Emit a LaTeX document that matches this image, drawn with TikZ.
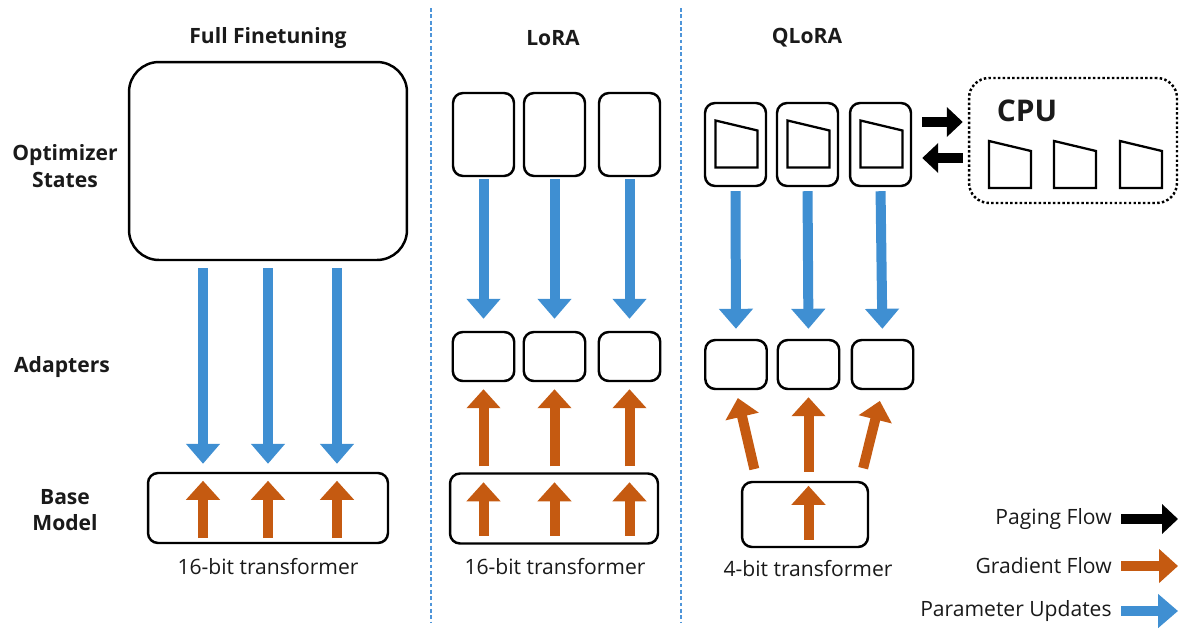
\documentclass[tikz,border=0pt]{standalone}
\usepackage{fontspec}
\setmainfont{Open Sans}
\usetikzlibrary{positioning,arrows.meta,calc}
\definecolor{updblue}{HTML}{3F8FD2}
\definecolor{gradorange}{HTML}{C55A11}
\definecolor{sepblue}{HTML}{4E95D9}
\definecolor{ink}{HTML}{1A1A1A}

\begin{document}
\begin{tikzpicture}[
  x=0.02cm, y=-0.02cm,
  every node/.style={font=\fontsize{12}{15}\selectfont, text=ink},
  headlabel/.style={font=\fontsize{12}{15}\selectfont\bfseries, align=center},
  optbox/.style={
    draw, line width=1.4pt, rounded corners=0.2cm, inner sep=0pt,
    minimum width=1.22cm, minimum height=1.66cm,
  },
  adbox/.style={
    draw, line width=1.4pt, rounded corners=0.2cm, inner sep=0pt,
    minimum width=1.23cm, minimum height=0.98cm,
  },
  basebox/.style={
    draw, line width=1.4pt, rounded corners=0.2cm, inner sep=0pt,
    minimum height=1.4cm,
  },
  cpubox/.style={
    draw, line width=1.4pt, rounded corners=0.4cm, inner sep=0pt,
    dash pattern=on 1.4pt off 1.3pt,
    minimum width=4.16cm, minimum height=2.5cm,
  },
  upd/.style={line width=0.2cm, draw=updblue, -{Triangle[length=0.4cm, width=0.66cm]}},
  grad/.style={line width=0.2cm, draw=gradorange, -{Triangle[length=0.38cm, width=0.66cm]}},
  paging/.style={line width=0.2cm, draw=black, -{Triangle[length=0.32cm, width=0.58cm]}},
  sepline/.style={draw=sepblue, line width=1.1pt, dash pattern=on 2.2pt off 1.4pt},
  legtext/.style={anchor=east, inner sep=0pt},
  trapez/.pic={
    \draw[line width=1.3pt] (-20,-24) -- (22,-14) -- (22,23) -- (-20,23) -- cycle;
  },
]
  \useasboundingbox (0,0) rectangle (1182,629);

  % column titles and row labels
  \node[headlabel] (tfull)  at (268, 38)  {Full Finetuning};
  \node[headlabel] (tlora)  at (553, 38)  {LoRA};
  \node[headlabel] (tqlora) at (807, 38)  {QLoRA};
  \node[headlabel] (ropt)   at (65, 166)  {Optimizer\\States};
  \node[headlabel] (rad)    at (62, 367)  {Adapters};
  \node[headlabel] (rbase)  at (65, 510)  {Base\\Model};

  % separators
  \draw[sepline] (431, 8) -- (431, 622);
  \draw[sepline] (681, 8) -- (681, 622);

  % full finetuning
  \node[draw, line width=1.4pt, rounded corners=0.6cm, inner sep=0pt,
        minimum width=5.56cm, minimum height=3.96cm] (ffopt) at (268, 161) {};
  \node[basebox, minimum width=4.8cm] (ffbase) at (268, 508) {};
  \node (fflabel) at (268, 567) {16-bit transformer};

  \draw[upd, shorten <=0.14cm, shorten >=0.16cm] ([xshift=-1.3cm]ffopt.south) -- ([xshift=-1.3cm]ffbase.north);
  \draw[upd, shorten <=0.14cm, shorten >=0.16cm] (ffopt.south) -- (ffbase.north);
  \draw[upd, shorten <=0.14cm, shorten >=0.16cm] ([xshift=1.38cm]ffopt.south) -- ([xshift=1.38cm]ffbase.north);
  \draw[grad, shorten <=0.12cm, shorten >=0.18cm] ([xshift=-1.3cm]ffbase.south) -- ([xshift=-1.3cm]ffbase.north);
  \draw[grad, shorten <=0.12cm, shorten >=0.18cm] (ffbase.south) -- (ffbase.north);
  \draw[grad, shorten <=0.12cm, shorten >=0.18cm] ([xshift=1.38cm]ffbase.south) -- ([xshift=1.38cm]ffbase.north);

  % lora
  \node[optbox] (lopt1) at (483.5, 134.5) {};
  \node[optbox] (lopt2) at (554.5, 134.5) {};
  \node[optbox] (lopt3) at (629.5, 134.5) {};
  \node[adbox]  (lad1)  at (483.5, 356.5) {};
  \node[adbox]  (lad2)  at (554.5, 356.5) {};
  \node[adbox]  (lad3)  at (629.5, 356.5) {};
  \node[basebox, minimum width=4.16cm] (lbase) at (554, 508.5) {};
  \node (llabel) at (555, 567) {16-bit transformer};

  \draw[upd, shorten <=0.04cm, shorten >=0.24cm] (lopt1.south) -- (lad1.north);
  \draw[upd, shorten <=0.04cm, shorten >=0.24cm] (lopt2.south) -- (lad2.north);
  \draw[upd, shorten <=0.04cm, shorten >=0.24cm] (lopt3.south) -- (lad3.north);
  \draw[grad, shorten <=0.12cm, shorten >=0.14cm] (lad1.south |- lbase.north) -- (lad1.south);
  \draw[grad, shorten <=0.12cm, shorten >=0.14cm] (lad2.south |- lbase.north) -- (lad2.south);
  \draw[grad, shorten <=0.12cm, shorten >=0.14cm] (lad3.south |- lbase.north) -- (lad3.south);
  \draw[grad, shorten <=0.18cm, shorten >=0.2cm] (lad1.south |- lbase.south) -- (lad1.south |- lbase.north);
  \draw[grad, shorten <=0.18cm, shorten >=0.2cm] (lad2.south |- lbase.south) -- (lad2.south |- lbase.north);
  \draw[grad, shorten <=0.18cm, shorten >=0.2cm] (lad3.south |- lbase.south) -- (lad3.south |- lbase.north);

  % qlora
  \node[optbox] (qopt1) at (735.5, 144.5) {};
  \node[optbox] (qopt2) at (807.5, 144.5) {};
  \node[optbox] (qopt3) at (880.5, 144.5) {};
  \pic at (qopt1.center) {trapez};
  \pic at (qopt2.center) {trapez};
  \pic at (qopt3.center) {trapez};
  \node[adbox]  (qad1)  at (736, 364.5) {};
  \node[adbox]  (qad2)  at (808.5, 364.5) {};
  \node[adbox]  (qad3)  at (882.5, 364.5) {};
  \node[basebox, minimum width=2.52cm, minimum height=1.3cm] (qbase) at (805, 514.5) {};
  \node (qlabel) at (808, 569) {4-bit transformer};

  \draw[upd, shorten <=0.08cm, shorten >=0.2cm] (qopt1.south) -- (qad1.north);
  \draw[upd, shorten <=0.08cm, shorten >=0.2cm] (qopt2.south) -- (qad2.north);
  \draw[upd, shorten <=0.08cm, shorten >=0.2cm] (qopt3.south) -- (qad3.north);
  \draw[grad, shorten <=0.24cm, shorten >=0.16cm] ([xshift=-0.96cm]qbase.north) -- (qad1.south);
  \draw[grad, shorten <=0.18cm, shorten >=0.14cm] (qad2.south |- qbase.north) -- (qad2.south);
  \draw[grad, shorten <=0.26cm, shorten >=0.22cm] ([xshift=1.1cm]qbase.north) -- (qad3.south);
  \draw[grad, shorten <=0.16cm, shorten >=0.1cm] (qad2.south |- qbase.south) -- (qad2.south |- qbase.north);

  % cpu paging
  \node[cpubox] (cpu) at (1073, 140.5) {};
  \node[font=\fontsize{17}{20}\selectfont\bfseries] (cpulabel) at (1027, 111) {CPU};
  \pic at (1009, 165) {trapez};
  \pic at (1074, 165) {trapez};
  \pic at (1140, 165) {trapez};

  \draw[paging, shorten <=0.2cm, shorten >=0.1cm] ([yshift=0.45cm]qopt3.east) -- ([yshift=0.45cm]qopt3.east -| cpu.west);
  \draw[paging, shorten <=0.1cm, shorten >=0.2cm] ([yshift=-0.27cm]qopt3.east -| cpu.west) -- ([yshift=-0.27cm]qopt3.east);

  % legend
  \coordinate (legend) at (1178, 600);
  \node[legtext] (legpage) at (1112, 519) {Paging Flow};
  \node[legtext] (leggrad) at (1112, 566) {Gradient Flow};
  \node[legtext] (legupd)  at (1112, 611) {Parameter Updates};
  \draw[paging] ([xshift=0.18cm]legpage.east) -- (legpage.east -| legend);
  \draw[grad]   ([xshift=0.18cm]leggrad.east) -- (leggrad.east -| legend);
  \draw[upd]    ([xshift=0.18cm]legupd.east)  -- (legupd.east -| legend);
\end{tikzpicture}
\end{document}
